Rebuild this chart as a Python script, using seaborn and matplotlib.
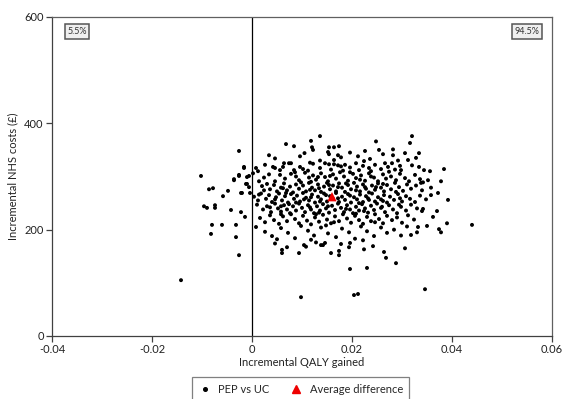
import matplotlib
matplotlib.use("Agg")
import matplotlib.pyplot as plt
import matplotlib.lines as mlines
import seaborn as sns
import pandas as pd

# ---- data (incremental QALY, incremental cost) ----
pts_top = [(0.0136,376),(0.032,376),(0.0118,367),(0.0248,366),(0.0316,363),(0.0068,361),(0.0084,357),
    (0.0174,357),(0.0154,355),(0.0164,355),(0.012,355),(0.0282,351),(0.0122,350),(0.0254,350),(0.0226,348),
    (-0.0026,348),(0.0306,344),(0.0334,344),(0.0152,346),(0.0154,342),(0.0034,340),(0.0282,340),(0.0172,340),
    (0.0096,338),(0.0178,336),(0.0328,335),(0.0212,338),(0.0046,334),(0.0196,345),(0.0262,342),(0.0105,344),
    (0.0236,333)]
pts_310 = [(0.0064,325),(0.0074,325),(0.0078,325),(0.028,325),(0.0266,325),(0.0062,318),(-0.0016,318),
    (0.0008,316),(0.0042,318),(0.0046,316),(0.0296,320),(0.0312,331),(0.0298,312),(0.0056,312),(0.0012,310),
    (-0.0016,316),(0.0384,314),(0.0356,310),(0.0116,326),(0.0122,324),(0.0146,325),(0.0154,323),(0.0164,323),
    (0.0172,321),(0.0178,319),(0.0186,322),(0.0196,317),(0.0208,325),(0.0222,320),(0.0234,316),(0.0246,322),
    (0.0258,314),(0.0272,318),(0.0286,313),(0.032,321),(0.0334,318),(0.0344,312),(0.0096,318),(0.0102,314),
    (0.0112,311),(0.0136,316),(0.0158,313),(0.0182,311),(0.0214,312),(0.0238,310),(0.0026,322),(0.0084,312),
    (0.0292,330),(0.0224,329),(0.0164,331),(0.0136,330)]
pts_290 = [(-0.0102,301),(-0.0026,301),(-0.0006,301),(-0.001,299),(0.0056,303),(-0.0026,303),(-0.0036,295),
    (-0.0036,293),(0.0002,306),(0.0024,298),(0.0034,304),(0.0066,296),(0.0078,305),(0.0088,300),(0.0094,293),
    (0.0106,307),(0.0114,298),(0.0122,302),(0.0128,294),(0.0138,306),(0.0146,299),(0.0152,291),(0.0162,304),
    (0.0168,296),(0.0176,308),(0.0184,300),(0.0192,292),(0.0202,305),(0.0208,297),(0.0218,302),(0.0226,292),
    (0.0234,306),(0.0244,298),(0.0252,291),(0.0262,304),(0.0268,296),(0.0278,300),(0.0288,293),(0.0296,305),
    (0.0306,297),(0.0314,291),(0.0326,303),(0.0336,295),(0.0352,293),(0.0342,289),(0.0338,288),(0.0378,291),
    (0.0046,291),(0.0014,291),(0.0118,290),(0.0196,308),(0.0238,300),(0.0274,309),(0.0086,308),(0.0132,299),
    (0.0216,294),(0.0156,301)]
pts_270 = [(-0.0086,276),(-0.0078,278),(-0.0048,273),(-0.0022,269),(-0.0012,286),(-0.001,286),(-0.0006,280),
    (-0.002,269),(-0.0004,269),(0.002,282),(0.003,286),(0.0036,276),(0.0044,284),(0.005,272),(0.0058,279),
    (0.0064,287),(0.007,274),(0.0076,281),(0.0082,270),(0.0088,285),(0.0094,277),(0.0102,283),(0.0108,272),
    (0.0114,288),(0.012,279),(0.0126,274),(0.0132,285),(0.0138,271),(0.0144,281),(0.015,288),(0.0156,276),
    (0.0162,283),(0.0168,272),(0.0174,287),(0.018,279),(0.0186,271),(0.0192,284),(0.0198,276),(0.0204,288),
    (0.021,281),(0.0216,272),(0.0222,285),(0.0228,277),(0.0234,270),(0.024,283),(0.0246,275),(0.0252,287),
    (0.0258,279),(0.0264,272),(0.027,284),(0.0278,276),(0.0286,288),(0.0294,280),(0.0302,273),(0.031,285),
    (0.0318,277),(0.0328,283),(0.034,274),(0.0372,269),(0.0358,279),(0.0024,274),(0.0062,278),(0.0098,289),
    (0.0134,278),(0.0172,280),(0.0208,274),(0.0248,280),(0.0288,271),(0.0116,275),(0.0154,284),(0.0188,287),
    (0.0226,280),(0.0262,286)]
pts_250 = [(-0.0058,263),(0.0004,262),(0.0012,255),(0.0018,268),(0.0028,258),(0.0034,265),(0.004,252),
    (0.0048,261),(0.0054,268),(0.006,255),(0.0066,263),(0.0072,251),(0.0078,267),(0.0084,258),(0.009,264),
    (0.0096,253),(0.0102,269),(0.0108,260),(0.0114,255),(0.012,266),(0.0126,251),(0.0132,262),(0.0138,257),
    (0.0144,268),(0.015,253),(0.0156,263),(0.0162,258),(0.0168,269),(0.0174,252),(0.018,262),(0.0186,256),
    (0.0192,267),(0.0198,251),(0.0204,261),(0.021,257),(0.0216,266),(0.0222,252),(0.0228,263),(0.0234,256),
    (0.024,268),(0.0246,253),(0.0252,261),(0.0258,257),(0.0264,265),(0.027,251),(0.0276,262),(0.0284,256),
    (0.0292,267),(0.03,253),(0.0308,263),(0.0316,258),(0.0326,252),(0.0336,264),(0.0348,257),(0.0358,265),
    (0.0392,256),(0.0014,266),(0.0046,257),(0.0088,251),(0.0118,261),(0.0148,265),(0.0172,259),(0.0196,264),
    (0.0232,259),(0.0262,254),(0.0296,259),(0.0136,253),(0.0214,250),(0.0068,269),(0.0104,257)]
pts_230 = [(-0.0096,244),(-0.009,241),(-0.0074,246),(-0.0074,241),(-0.0042,237),(-0.0022,233),(0.001,247),
    (0.0022,238),(0.003,244),(0.0038,233),(0.0046,249),(0.0052,240),(0.0058,234),(0.0064,246),(0.007,238),
    (0.0076,231),(0.0082,244),(0.0088,236),(0.0094,249),(0.01,241),(0.0106,233),(0.0112,246),(0.0118,238),
    (0.0124,231),(0.013,244),(0.0136,236),(0.0142,248),(0.0148,240),(0.0154,232),(0.016,245),(0.0166,237),
    (0.0172,249),(0.0178,241),(0.0184,233),(0.019,246),(0.0196,238),(0.0202,231),(0.0208,243),(0.0214,236),
    (0.022,248),(0.0226,240),(0.0232,232),(0.0238,245),(0.0244,237),(0.025,249),(0.0258,241),(0.0266,233),
    (0.0274,246),(0.0282,238),(0.029,231),(0.0298,243),(0.0308,236),(0.0318,247),(0.033,240),(0.0342,239),
    (0.034,235),(0.037,235),(0.0036,242),(0.0074,248),(0.0116,242),(0.0152,244),(0.0188,239),(0.0224,235),
    (0.026,243),(0.0294,247),(0.0134,232),(0.0058,244)]
pts_210 = [(-0.008,209),(-0.006,209),(-0.0032,209),(-0.0014,224),(0.0016,222),(0.0026,214),(0.0036,227),
    (0.0044,218),(0.0054,211),(0.0062,225),(0.007,216),(0.0078,229),(0.0086,220),(0.0094,212),(0.0102,226),
    (0.011,217),(0.0118,210),(0.0126,223),(0.0134,215),(0.0142,228),(0.015,219),(0.0158,212),(0.0166,225),
    (0.0174,216),(0.0182,229),(0.019,221),(0.0198,213),(0.0206,226),(0.0214,218),(0.0222,211),(0.023,224),
    (0.0238,216),(0.0246,229),(0.0254,220),(0.0262,212),(0.027,226),(0.028,218),(0.029,223),(0.03,213),
    (0.0312,227),(0.0324,219),(0.0362,224),(0.039,212),(0.044,209),(0.0208,230),(0.0128,229),(0.0058,229),
    (0.0164,214),(0.0246,214)]
pts_180 = [(-0.0082,192),(-0.0032,186),(0.0008,205),(0.0026,196),(0.004,188),(0.0058,203),(0.0072,194),
    (0.0086,184),(0.0098,207),(0.0112,198),(0.0124,189),(0.0138,204),(0.0152,193),(0.0168,186),(0.018,202),
    (0.0194,195),(0.0206,183),(0.0218,206),(0.023,197),(0.0244,188),(0.0258,204),(0.027,194),(0.0284,200),
    (0.0298,189),(0.031,206),(0.0318,190),(0.033,195),(0.0332,205),(0.035,207),(0.0374,201),(0.0378,195),
    (0.0222,180),(0.0118,181),(0.005,182),(0.0148,208)]
pts_low = [(-0.0026,152),(0.0242,169),(0.0306,165),(0.0264,158),(0.0268,147),(0.0288,137),(0.023,128),
    (0.0046,174),(0.0108,168),(0.0196,175),(0.0094,156),(0.0128,176),(0.0224,163),(0.0142,171),
    (0.006,162),(0.006,156),(0.007,167),(0.0104,171),(0.0138,171),(0.0146,175),(0.0158,156),(0.0174,160),
    (0.0174,152),(0.0178,173),(0.0194,167),(0.0196,126),(0.0098,73),(0.0204,77),(0.0212,79),
    (-0.0142,105),(0.0346,88)]

avg_qaly = [0.016]
avg_cost = [262]
quadrant_labels = ["5.5%", "94.5%"]
x_ticks = [-0.04, -0.02, 0, 0.02, 0.04, 0.06]
x_tick_labels = ["-0.04", "-0.02", "0", "0.02", "0.04", "0.06"]
y_ticks = [0, 200, 400, 600]
series_names = ["PEP vs UC", "Average difference"]

all_pts = pts_top + pts_310 + pts_290 + pts_270 + pts_250 + pts_230 + pts_210 + pts_180 + pts_low
df = pd.DataFrame(all_pts, columns=["qaly", "cost"])
df_avg = pd.DataFrame({"qaly": avg_qaly, "cost": avg_cost})

# ---- styling ----
sns.set_style("white")
plt.rcParams["font.family"] = ["Lato", "DejaVu Sans"]

fig = plt.figure(figsize=(5.67, 3.99), dpi=100)
ax = fig.add_axes([52/567, 1-336/399, 500/567, 319/399])

ax.axvline(0, color="black", lw=0.9, zorder=1)
sns.scatterplot(data=df, x="qaly", y="cost", ax=ax, color="black", s=8, marker="o",
                edgecolor="none", zorder=3, legend=False)
sns.scatterplot(data=df_avg, x="qaly", y="cost", ax=ax, color="#ee0000", s=45, marker="^",
                edgecolor="none", zorder=4, legend=False)

ax.set_xlim(-0.04, 0.06)
ax.set_ylim(0, 600)
ax.set_xticks(x_ticks)
ax.set_xticklabels(x_tick_labels)
ax.set_yticks(y_ticks)
ax.tick_params(axis="both", direction="out", length=4, width=0.9, colors="#404040",
               labelsize=8, labelcolor="#222222", pad=2)
ax.tick_params(left=True, bottom=True)
for side, sp in ax.spines.items():
    sp.set_visible(True)
    sp.set_linewidth(0.9)
    sp.set_color("#404040" if side in ("left", "bottom") else "#606060")

ax.set_xlabel("Incremental QALY gained", fontsize=8, color="#222222", labelpad=1)
ax.set_ylabel("Incremental NHS costs (£)", fontsize=8, color="#222222", labelpad=4)

box = dict(boxstyle="square,pad=0.3", facecolor="#efefef", edgecolor="#555555", lw=1.1)
ax.text(0.05, 0.955, quadrant_labels[0], transform=ax.transAxes, fontsize=6.5, ha="center",
        va="center", bbox=box, color="#333333")
ax.text(0.95, 0.955, quadrant_labels[1], transform=ax.transAxes, fontsize=6.5, ha="center",
        va="center", bbox=box, color="#333333")

h1 = mlines.Line2D([], [], color="black", marker="o", markersize=2.6, ls="none")
h2 = mlines.Line2D([], [], color="#ee0000", marker="^", markersize=6, ls="none")
leg = fig.legend([h1, h2], series_names, loc="upper center", ncol=2,
                 bbox_to_anchor=(0.53, 0.068), bbox_transform=fig.transFigure,
                 fontsize=8, frameon=True, fancybox=False, edgecolor="#606060",
                 handletextpad=0.6, columnspacing=1.8, borderpad=0.6, handlelength=1.2)
leg.get_frame().set_linewidth(0.9)

fig.savefig("out.png", dpi=100)
